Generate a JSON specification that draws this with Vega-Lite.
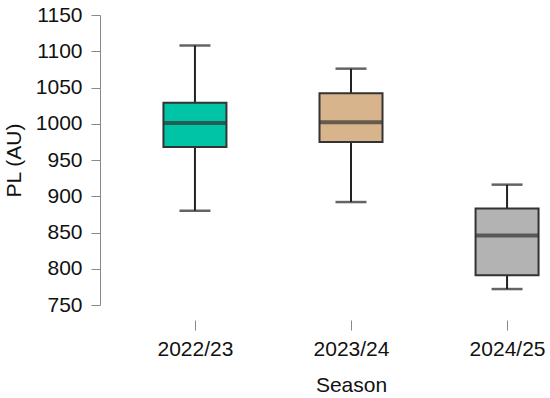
{
  "$schema": "https://vega.github.io/schema/vega-lite/v6.json",
  "width": 392,
  "height": 290,
  "autosize": {"type": "none"},
  "padding": {"left": 155, "top": 15, "right": 3, "bottom": 93},
  "background": "white",
  "config": {
    "view": {"stroke": null},
    "font": "Liberation Sans",
    "axis": {
      "labelFont": "Liberation Sans",
      "titleFont": "Liberation Sans",
      "labelFontSize": 21,
      "titleFontSize": 21,
      "titleFontWeight": "normal",
      "labelColor": "#111",
      "titleColor": "#111",
      "domainColor": "#888",
      "tickColor": "#888",
      "grid": false
    },
    "axisY": {
      "values": [750, 800, 850, 900, 950, 1000, 1050, 1100, 1150],
      "format": "d",
      "labelOverlap": false,
      "offset": 55,
      "tickSize": 9,
      "labelPadding": 9,
      "titlePadding": 11
    }
  },
  "data": {
    "values": [
      {"season": "2022/23", "min": 880, "q1": 968, "median": 1001, "q3": 1029, "max": 1108},
      {"season": "2023/24", "min": 892, "q1": 975, "median": 1002, "q3": 1042, "max": 1076},
      {"season": "2024/25", "min": 772, "q1": 791, "median": 846, "q3": 883, "max": 916}
    ]
  },
  "encoding": {
    "x": {
      "field": "season",
      "type": "nominal",
      "sort": null,
      "scale": {"type": "point", "padding": 0.256},
      "axis": {
        "title": "Season",
        "labelAngle": 0,
        "domain": false,
        "offset": 15,
        "tickSize": 10,
        "labelPadding": 8,
        "titlePadding": 15
      }
    }
  },
  "layer": [
    {
      "mark": {"type": "rule", "color": "#222", "strokeWidth": 2},
      "encoding": {
        "y": {
          "field": "min",
          "type": "quantitative",
          "scale": {"domain": [750, 1150], "nice": false, "zero": false},
          "axis": {"title": "PL (AU)", "values": [750, 800, 850, 900, 950, 1000, 1050, 1100, 1150], "tickCount": 9}
        },
        "y2": {"field": "max"}
      }
    },
    {
      "mark": {"type": "tick", "color": "#222", "size": 31, "thickness": 2.5, "orient": "horizontal"},
      "encoding": {"y": {"field": "min", "type": "quantitative", "axis": {"title": "PL (AU)", "values": [750, 800, 850, 900, 950, 1000, 1050, 1100, 1150], "tickCount": 9}}}
    },
    {
      "mark": {"type": "tick", "color": "#222", "size": 31, "thickness": 2.5, "orient": "horizontal"},
      "encoding": {"y": {"field": "max", "type": "quantitative", "axis": {"title": "PL (AU)", "values": [750, 800, 850, 900, 950, 1000, 1050, 1100, 1150], "tickCount": 9}}}
    },
    {
      "mark": {"type": "bar", "width": 63, "stroke": "#333", "strokeWidth": 2},
      "encoding": {
        "y": {"field": "q1", "type": "quantitative", "axis": {"title": "PL (AU)", "values": [750, 800, 850, 900, 950, 1000, 1050, 1100, 1150], "tickCount": 9}},
        "y2": {"field": "q3"},
        "color": {
          "field": "season",
          "type": "nominal",
          "scale": {"domain": ["2022/23", "2023/24", "2024/25"], "range": ["#00C4A6", "#D8B48C", "#B3B3B3"]},
          "legend": null
        }
      }
    },
    {
      "mark": {"type": "tick", "color": "#333", "size": 63, "thickness": 4, "orient": "horizontal"},
      "encoding": {"y": {"field": "median", "type": "quantitative", "axis": {"title": "PL (AU)", "values": [750, 800, 850, 900, 950, 1000, 1050, 1100, 1150], "tickCount": 9}}}
    }
  ]
}
